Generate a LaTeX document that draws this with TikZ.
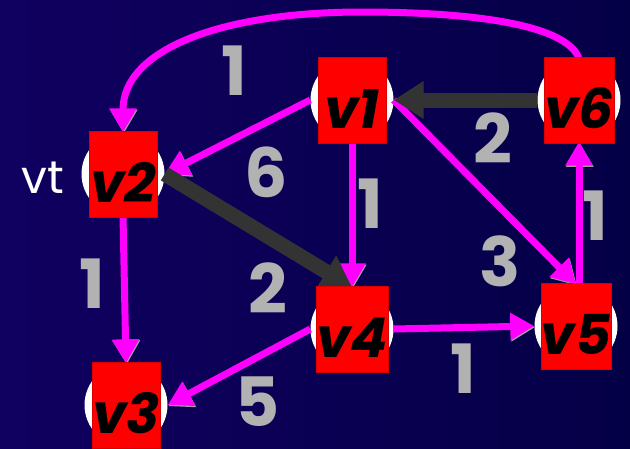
\documentclass[tikz,border=0pt]{standalone}
\usepackage{fontspec}
\setmainfont{Poppins}
\usetikzlibrary{arrows.meta,positioning}

\definecolor{navyL}{RGB}{16,0,96}
\definecolor{navyR}{RGB}{4,0,70}
\definecolor{pathgray}{RGB}{51,51,51}
\definecolor{wgray}{RGB}{178,178,178}
\definecolor{pinkline}{RGB}{255,0,255}

\begin{document}
\begin{tikzpicture}[x=1pt, y=-1pt,
        ring/.style={circle, fill=white, minimum size=83pt, inner sep=0pt},
        vbox/.style={fill=red, draw=red!85!black, line width=0.4pt, minimum width=68pt, minimum height=86pt, inner sep=0pt, text height=57pt, font=\fontsize{55}{55}\selectfont\bfseries\itshape},
        weight/.style={text=wgray, inner sep=0pt, font=\fontsize{68}{68}\selectfont\bfseries},
        edge/.style={draw=pinkline, line width=7pt, -{Triangle[length=24pt,width=26pt]}, preaction={draw=gray!75, transform canvas={shift={(0.8pt,-1.2pt)}}}},
        best/.style={draw=pathgray, line width=15pt, -{Triangle[length=30pt,width=36pt]}}
    ]
        % Background
        \fill [left color=navyL, right color=navyR] (0,0) rectangle (630,448);
        \useasboundingbox (0,0) rectangle (630,448);

        % White rings behind the vertices
        \node (v1) [ring] at (352,100) {};
        \node (v2) [ring] at (123,174) {};
        \node (v3) [ring] at (126,405) {};
        \node (v4) [ring] at (352,329) {};
        \node (v5) [ring] at (576,326) {};
        \node (v6) [ring] at (579,100) {};

        % Connections
        \draw [edge] (v6.north) .. controls (565,22) and (460,12) .. (362,12)
                                .. controls (220,12) and (123,50) .. (v2.north);
        \draw [edge] (v1.west) -- (v2.east);
        \draw [edge] (v1.south) -- (v4.north);
        \draw [edge] (v1.east) -- (v5.north);
        \draw [edge] (v2.south) -- (v3.north);
        \draw [edge] (v4.west) -- (v3.east);
        \draw [edge] (v4.east) -- (v5.west);
        \draw [edge] (v6.south |- v5.north) -- (v6.south);

        \draw [best] (v2.east) -- (v4.north);
        \draw [best] (v6.west) -- (v1.east);

        % Vertex boxes
        \node (v1box) [vbox] at (v1) {v1};
        \node (v2box) [vbox] at (v2) {v2};
        \node (v3box) [vbox] at (v3) {v3};
        \node (v4box) [vbox] at (v4) {v4};
        \node (v5box) [vbox] at (v5) {v5};
        \node (v6box) [vbox] at (v6) {v6};

        \node (vt) [text=white, font=\fontsize{46}{46}\selectfont] at (43,178) {vt};

        % Edge weights
        \node (w62) [weight] at (234,71) {1};
        \node (w12) [weight] at (266,172) {6};
        \node (w24) [weight] at (268,288) {2};
        \node (w14) [weight] at (370,204) {1};
        \node (w61) [weight] at (493,138) {2};
        \node (w15) [weight] at (500,261) {3};
        \node (w56) [weight] at (595,216) {1};
        \node (w23) [weight] at (92,284) {1};
        \node (w43) [weight] at (258,402) {5};
        \node (w45) [weight] at (463,369) {1};

    \end{tikzpicture}
\end{document}
